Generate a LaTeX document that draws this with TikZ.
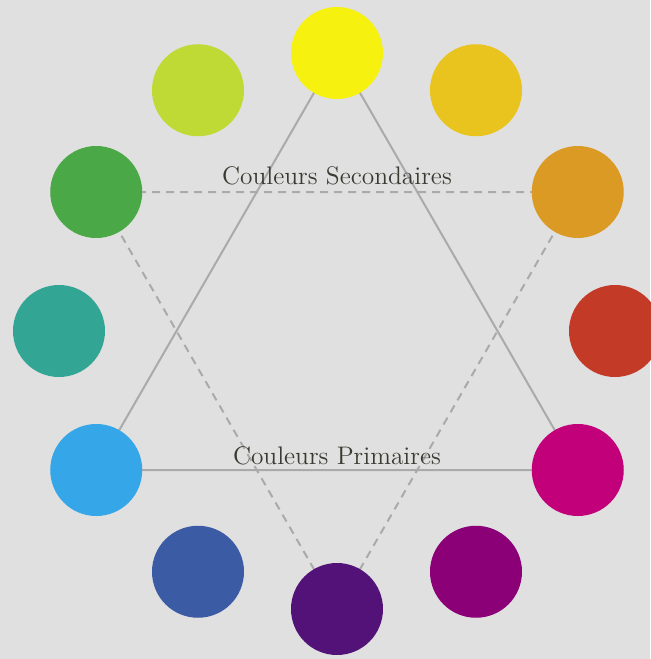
\documentclass[tikz,border=0pt]{standalone}
\usepackage{tikz}
\usetikzlibrary{backgrounds}
\definecolor{bg}{HTML}{E0E0E0}
\definecolor{linegray}{HTML}{AAAAAA}
\definecolor{txt}{HTML}{3A3A32}
\tikzstyle{pastille} = [circle, minimum size=46pt, inner sep=0pt]
\tikzstyle{label} = [text=txt, font=\fontsize{12.7}{15}\selectfont]
\tikzstyle{trait} = [draw=linegray, line width=1pt]
\tikzstyle{pointille} = [trait, dash pattern=on 4pt off 3pt]

\begin{document}
\begin{tikzpicture}[x=0.5pt, y=0.5pt]
    \useasboundingbox (-337,-328) rectangle (313,331);
    % les douze couleurs, dans le sens horaire depuis le haut
    \foreach \i/\col in {0/F6F10E, 1/E9C41E, 2/DB9A24, 3/C33A26, 4/C1007A, 5/8B0077,
                         6/521277, 7/3C5BA5, 8/35A6E8, 9/33A594, 10/4AA846, 11/BFD935} {
        \definecolor{c\i}{HTML}{\col}
        \node [pastille, fill=c\i] (c\i) at ({90-30*\i}:278) {};
    }
    \begin{pgfonlayer}{background}
        \fill [bg] (-337,-328) rectangle (313,331);
        \draw [trait] (c0.center) -- (c4.center) -- (c8.center) -- cycle;
        \draw [pointille] (c10.center) -- (c2.center) -- (c6.center) -- cycle;
    \end{pgfonlayer}
    \node [label] (secondaires) at (0,155) {Couleurs Secondaires};
    \node [label] (primaires) at (0,-125) {Couleurs Primaires};
\end{tikzpicture}
\end{document}
